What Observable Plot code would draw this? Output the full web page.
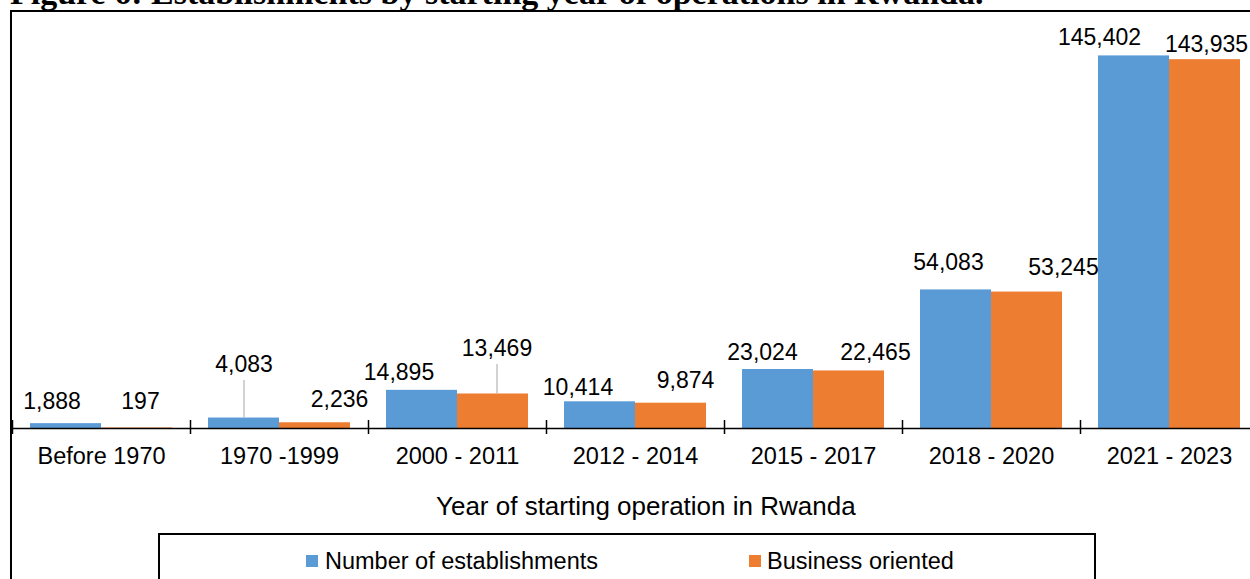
<!DOCTYPE html>
<html>
<head>
<meta charset="utf-8">
<script src="https://cdn.jsdelivr.net/npm/d3@7"></script>
<script src="https://cdn.jsdelivr.net/npm/@observablehq/plot@0.6"></script>
<style>
  html, body { margin: 0; padding: 0; background: #fff; overflow: hidden; }
  #wrap { position: relative; width: 1250px; height: 579px; overflow: hidden; font-family: "Liberation Sans", Arial, sans-serif; color: #000; }
  #title { position: absolute; left: 10px; top: -24.5px; font: bold 34px/34px "Liberation Serif", "Times New Roman", serif; white-space: nowrap; }
  #frame { position: absolute; left: 10px; top: 10px; width: 2000px; height: 2000px; border: 2px solid #000; box-sizing: border-box; pointer-events: none; }
  #chart { position: absolute; left: 0; top: 0; }
  #legend { position: absolute; left: 158px; top: 533px; width: 938px; height: 200px; border: 2px solid #000; box-sizing: border-box; background: #fff; }
  .sw { position: absolute; width: 12px; height: 12px; }
  .lt { position: absolute; font-size: 23.5px; line-height: 23.5px; white-space: nowrap; }
</style>
</head>
<body>
<div id="wrap">
  <div id="title">Figure 6: Establishments by starting year of operations in Rwanda.</div>
  <div id="chart"></div>
  <div id="legend"></div>
  <div id="frame"></div>
</div>
<script>
// ---- data ----
const categories = ["Before 1970", "1970 -1999", "2000 - 2011", "2012 - 2014", "2015 - 2017", "2018 - 2020", "2021 - 2023"];
const establishments = [1888, 4083, 14895, 10414, 23024, 54083, 145402];
const businessOriented = [197, 2236, 13469, 9874, 22465, 53245, 143935];
const seriesNames = ["Number of establishments", "Business oriented"];
const xTitle = "Year of starting operation in Rwanda";

// ---- styling / layout ----
const colors = ["#5B9BD5", "#ED7D31"];
const W = 1250, H = 579;
const xRange = [12, 1258];
const band = (xRange[1] - xRange[0]) / categories.length; // 178
const gapOuter = 18, barW = (band - 2 * gapOuter) / 2;
// manual label nudges (px) relative to bar top-centre, as in the source chart
const labelNudge = [
  [[-14, -23], [0, -54.5], [-23, -19], [-22, -15], [-15.5, -18], [-7.5, -28], [-34.5, -19]],
  [[3.5, -27.5], [24.5, -24], [4, -46.5], [14.5, -23], [26.5, -19], [36.5, -25.5], [1.5, -16]]
];
const leaders = [[0, 1], [1, 2]]; // [series, category] labels with leader lines

const seriesValues = [establishments, businessOriented];
const fmt = d3.format(",");

const marks = [];
seriesValues.forEach((vals, s) => {
  const rows = categories.map((c, i) => ({category: c, value: vals[i]}));
  marks.push(Plot.barY(rows, {
    x: "category", y: "value", fill: colors[s],
    insetLeft: s === 0 ? gapOuter : gapOuter + barW,
    insetRight: s === 0 ? gapOuter + barW : gapOuter
  }));
});
// leader lines
leaders.forEach(([s, i]) => {
  const [ndx, ndy] = labelNudge[s][i];
  const off = (s === 0 ? -1 : 1) * barW / 2;
  marks.push(Plot.ruleX([{category: categories[i], value: seriesValues[s][i]}], {
    x: "category", y1: "value", y2: "value", dx: off + ndx,
    insetTop: ndy + 17, insetBottom: 0, stroke: "#A6A6A6", strokeWidth: 1
  }));
});
// axis line and tick marks
marks.push(Plot.ruleY([0], {stroke: "#000", strokeWidth: 1.5}));
marks.push(Plot.ruleX(categories, {x: d => d, y1: 0, y2: 0, dx: -band / 2, insetTop: -8, insetBottom: -6, stroke: "#000", strokeWidth: 1.5}));
// tick labels
marks.push(Plot.text(categories, {x: d => d, frameAnchor: "bottom", lineAnchor: "bottom", dy: 35.3, fontSize: 23.5, fill: "#000"}));
// axis title
marks.push(Plot.text([xTitle], {frameAnchor: "bottom", lineAnchor: "bottom", dy: 86.3, dx: 14.3, fontSize: 26, fill: "#000"}));
// value labels
seriesValues.forEach((vals, s) => {
  vals.forEach((v, i) => {
    const [ndx, ndy] = labelNudge[s][i];
    const off = (s === 0 ? -1 : 1) * barW / 2;
    marks.push(Plot.text([{category: categories[i], value: v}], {
      x: "category", y: "value", text: d => fmt(d.value),
      dx: off + ndx, dy: ndy + 8.2, lineAnchor: "bottom", fontSize: 23, fill: "#000"
    }));
  });
});

const plot = Plot.plot({
  width: W, height: H,
  marginTop: 18, marginBottom: 151, marginLeft: 12, marginRight: 0,
  x: {domain: categories, range: xRange, padding: 0, axis: null},
  y: {domain: [0, 160000], axis: null},
  style: {fontFamily: "'Liberation Sans', Arial, sans-serif", background: "transparent", overflow: "visible", color: "#000"},
  marks
});
document.getElementById("chart").appendChild(plot);

// legend
const legend = document.getElementById("legend");
const legendPos = [[306, 325], [749, 767]];
seriesNames.forEach((name, s) => {
  const sw = document.createElement("div");
  sw.className = "sw";
  sw.style.background = colors[s];
  sw.style.left = (legendPos[s][0] - 160) + "px";
  sw.style.top = (555 - 535) + "px";
  legend.appendChild(sw);
  const t = document.createElement("div");
  t.className = "lt";
  t.textContent = name;
  t.style.left = (legendPos[s][1] - 160) + "px";
  t.style.top = (550.2 - 535) + "px";
  legend.appendChild(t);
});
</script>
</body>
</html>
